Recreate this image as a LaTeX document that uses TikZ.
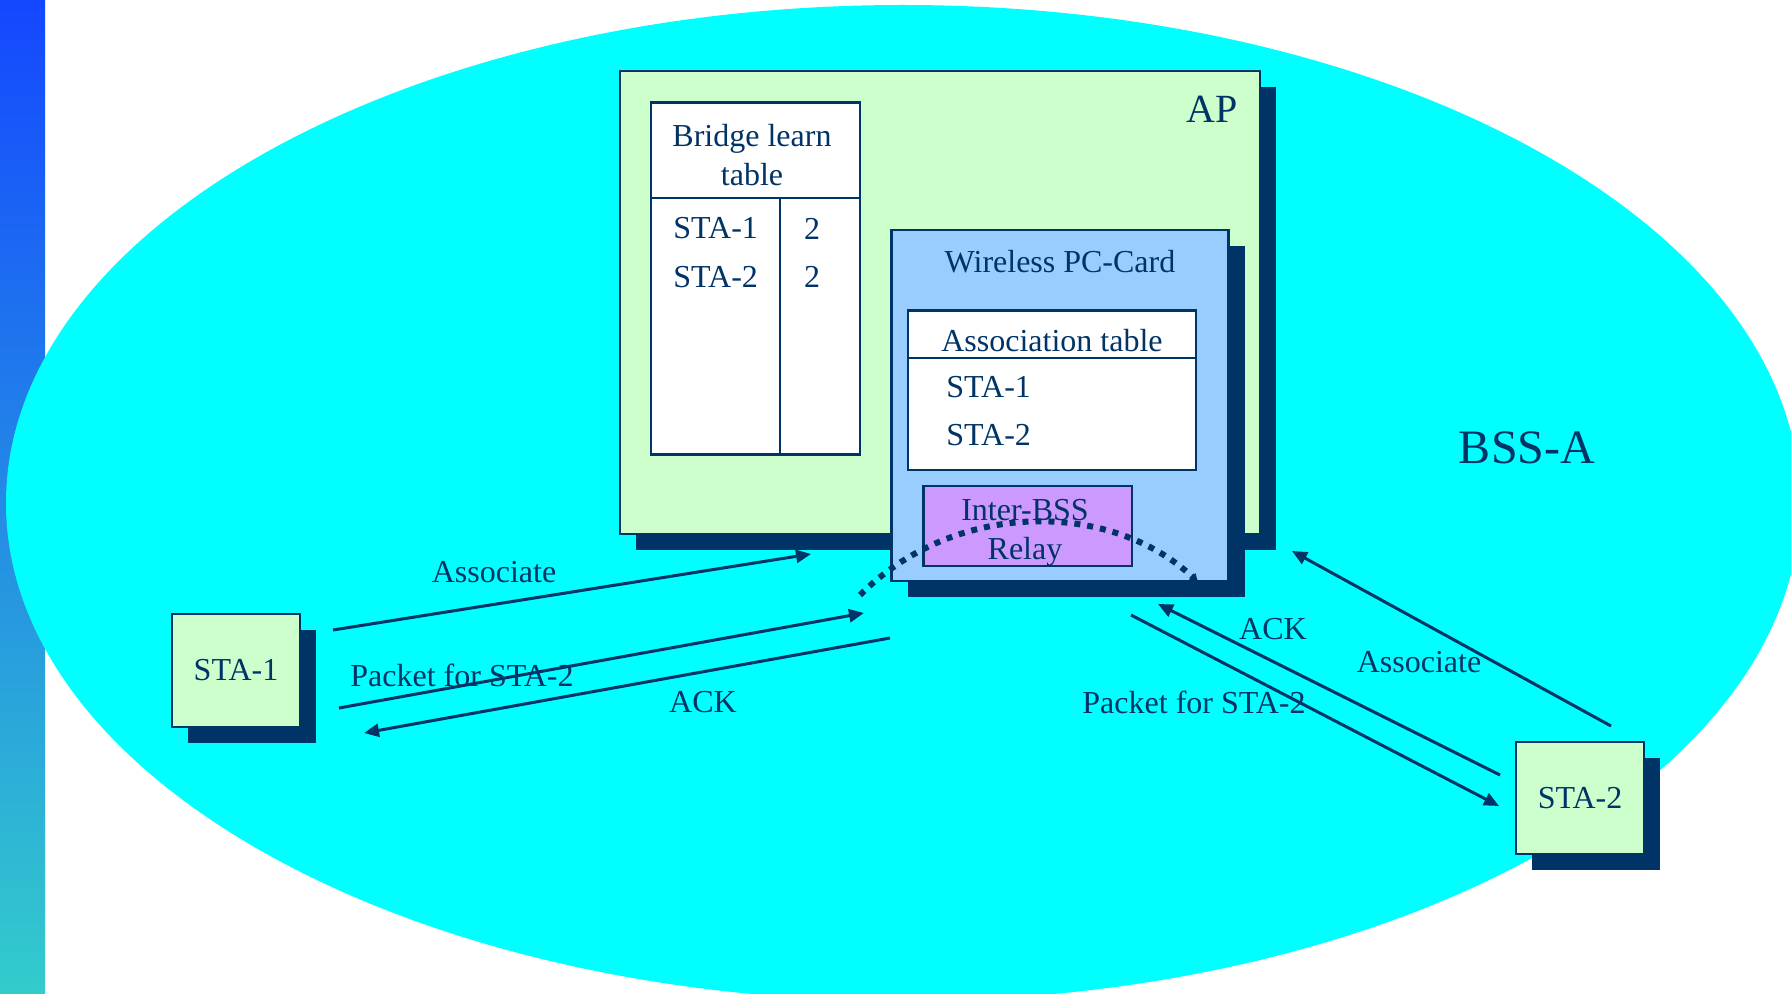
\documentclass[tikz,border=0pt]{standalone}
\usepackage{fontspec}
\setmainfont{Liberation Serif}
\usetikzlibrary{shadows,arrows.meta}
\definecolor{bsscyan}{HTML}{00FFFF}
\definecolor{boxgreen}{HTML}{CCFFCC}
\definecolor{cardblue}{HTML}{99CCFF}
\definecolor{relaypurple}{HTML}{CC99FF}
\definecolor{navy}{HTML}{003366}
\definecolor{bartop}{HTML}{1447FF}
\definecolor{barbottom}{HTML}{33CCCC}

\begin{document}
\begin{tikzpicture}[x=0.5pt, y=-0.5pt,
    box/.style={rectangle, draw=navy, line width=1.2pt, inner sep=0pt, text=navy, align=center, font=\fontsize{16}{18.5}\selectfont},
    shadowed/.style={drop shadow={shadow xshift=8pt, shadow yshift=-8pt, fill=navy, opacity=1}},
    txt/.style={text=navy, inner sep=0pt, font=\fontsize{16}{19.5}\selectfont},
    arrow/.style={-{Triangle[length=7.5pt,width=6.5pt]}, line width=1.5pt, draw=navy},
    relaypath/.style={-{Triangle[length=4pt,width=4.5pt]}, line width=3pt, draw=navy, dash pattern=on 3pt off 3.5pt}
]
\useasboundingbox (0,0) rectangle (1791,994);
\clip (0,0) rectangle (1791,994);
\shade[top color=bartop, bottom color=barbottom] (0,0) rectangle (45,994);
\fill[bsscyan] (903,503) ellipse [x radius=448.5pt, y radius=249pt];
\node[txt, font=\fontsize{24}{28}\selectfont] (bss) at (1527,448) {BSS-A};

% access point
\node[box, shadowed, fill=boxgreen, minimum width=320pt, minimum height=231.5pt] (ap) at (940,302.5) {};
\node[txt, font=\fontsize{20}{24}\selectfont] (aptitle) at (1212,109) {AP};
\node[box, fill=white, minimum width=104.5pt, minimum height=47.75pt] (bhead) at (755.5,150.25) {};
\node[txt, align=center] (btitle) at (752,155) {Bridge learn\\table};
\node[box, fill=white, minimum width=64.5pt, minimum height=128.25pt] (bcol1) at (715.5,326.25) {};
\node[box, fill=white, minimum width=40pt, minimum height=128.25pt] (bcol2) at (820,326.25) {};
\node[txt, anchor=west] (bsta1) at (673,228.5) {STA-1};
\node[txt, anchor=west] (bsta2) at (673,277) {STA-2};
\node[txt] (bport1) at (812,228.5) {2};
\node[txt] (bport2) at (812,277) {2};

% wireless card
\node[box, shadowed, fill=cardblue, minimum width=168.5pt, minimum height=175.5pt] (card) at (1060,405.5) {};
\node[txt] (cardtitle) at (1060,262) {Wireless PC-Card};
\node[box, fill=white, minimum width=144pt, minimum height=23.7pt] (ahead) at (1052,334.3) {};
\node[txt] (atitle) at (1052,341) {Association table};
\node[box, fill=white, minimum width=144pt, minimum height=56pt] (abody) at (1052,414) {};
\node[txt, anchor=west] (asta1) at (946,387) {STA-1};
\node[txt, anchor=west] (asta2) at (946,435.5) {STA-2};
\node[box, fill=relaypurple, minimum width=104.2pt, minimum height=40pt] (relay) at (1027.8,526) {};
\node[txt, align=center] (rtitle) at (1025,533) {Inter-BSS\\Relay};

% stations
\node[box, shadowed, fill=boxgreen, minimum width=64pt, minimum height=56.5pt] (sta1) at (236,670.5) {STA-1};
\node[box, shadowed, fill=boxgreen, minimum width=64pt, minimum height=56pt] (sta2) at (1580,798) {STA-2};

% message ends
\coordinate (s1assoc) at (333,630);
\coordinate (apleft) at (811,554);
\coordinate (s1pkt) at (339,708);
\coordinate (cardleft) at (864,613);
\coordinate (cardack) at (890,638);
\coordinate (s1ack) at (364,733);
\coordinate (s2assoc) at (1611,726);
\coordinate (apright) at (1292,551);
\coordinate (s2ack) at (1500,775);
\coordinate (cardright) at (1158,604);
\coordinate (cardpkt) at (1131,615);
\coordinate (s2pkt) at (1499,806);
\coordinate (relayin) at (860,595);
\coordinate (relayout) at (1198,582);

\draw[arrow] (s1assoc) -- (apleft);
\draw[arrow] (s1pkt) -- (cardleft);
\draw[arrow] (cardack) -- (s1ack);
\draw[arrow] (s2assoc) -- (apright);
\draw[arrow] (s2ack) -- (cardright);
\draw[arrow] (cardpkt) -- (s2pkt);
\draw[relaypath] (relayin) .. controls (955,500) and (1110,500) .. (relayout);

\node[txt] (l1assoc) at (494,572) {Associate};
\node[txt] (l1pkt) at (462,675) {Packet for STA-2};
\node[txt] (l1ack) at (703,702) {ACK};
\node[txt] (l2assoc) at (1419,662) {Associate};
\node[txt] (l2ack) at (1273,629) {ACK};
\node[txt] (l2pkt) at (1194,702) {Packet for STA-2};
\end{tikzpicture}
\end{document}
